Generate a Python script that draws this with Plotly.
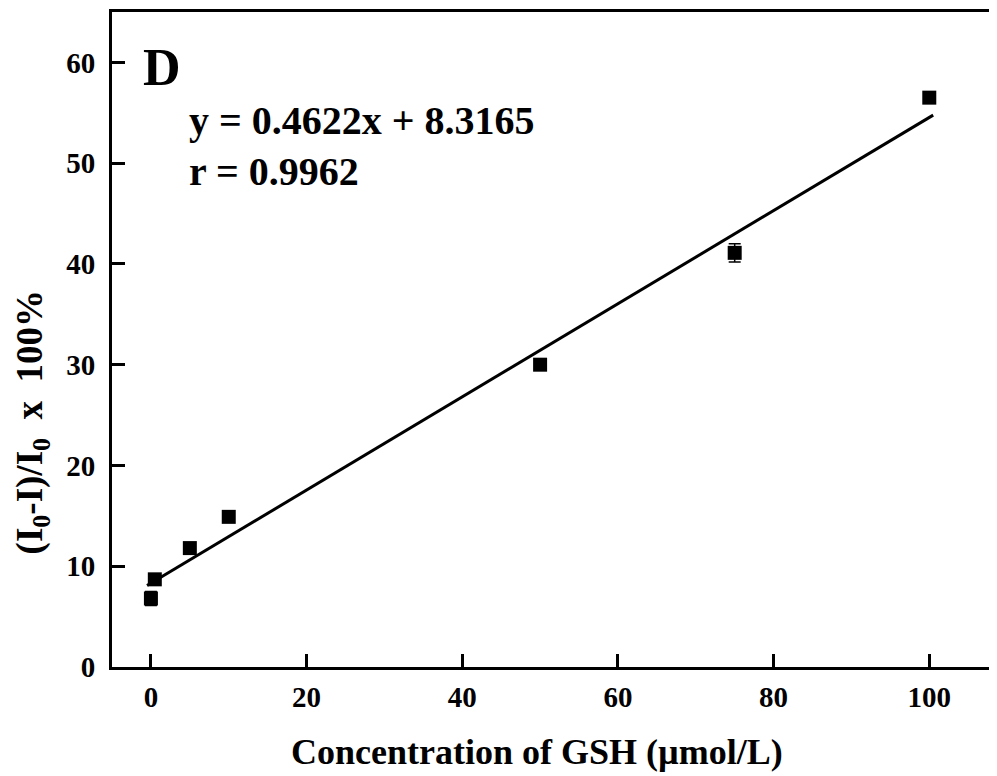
import plotly.graph_objects as go

# GSH calibration data
conc = [0, 0.5, 5, 10, 50, 75, 100]
quench = [6.8, 8.7, 11.8, 14.9, 30.0, 41.1, 56.5]
quench_err = [0.7, 0.4, 0.3, 0.3, 0.3, 0.9, 0.5]

slope = 0.4622
intercept = 8.3165
r_value = 0.9962
fit_x = [-0.5, 100.5]
fit_y = [slope * v + intercept for v in fit_x]

x_ticks = [0, 20, 40, 60, 80, 100]
y_ticks = [0, 10, 20, 30, 40, 50, 60]

SERIF = "Liberation Serif, Times New Roman, serif"

fig = go.Figure()
fig.add_trace(go.Scatter(
    x=fit_x, y=fit_y, mode="lines",
    line=dict(color="black", width=3),
    showlegend=False,
))
fig.add_trace(go.Scatter(
    x=conc, y=quench, mode="markers",
    marker=dict(symbol="square", size=14, color="black"),
    error_y=dict(type="data", array=quench_err, color="black", thickness=1.5, width=6),
    showlegend=False,
))

axis_common = dict(
    showline=True, linecolor="black", linewidth=3,
    ticks="inside", ticklen=13, tickwidth=3, tickcolor="black",
    showgrid=False, zeroline=False,
    tickfont=dict(family=SERIF, size=29, color="black", weight="bold"),
)
fig.update_xaxes(range=[-5, 108.7], tickvals=x_ticks, mirror=True,
                 ticklabelstandoff=2, **axis_common)
fig.update_yaxes(range=[0, 65], tickvals=y_ticks, mirror=False,
                 ticklabelstandoff=8, **axis_common)

text_font = dict(family=SERIF, color="black", weight="bold")
sp = "\u00a0\u00a0"
annotations = [
    dict(text="D", x=0.033, y=0.915, xanchor="left", yanchor="middle",
         font=dict(size=52, **text_font)),
    dict(text=f"y = {slope}x + {intercept}", x=0.085, y=0.834,
         xanchor="left", yanchor="middle", font=dict(size=40, **text_font)),
    dict(text=f"r = {r_value}", x=0.085, y=0.757,
         xanchor="left", yanchor="middle", font=dict(size=40, **text_font)),
    dict(text="Concentration of GSH (\u00b5mol/L)", x=0.48, y=-0.13,
         xanchor="center", yanchor="middle", font=dict(size=36, **text_font)),
    dict(text=f"(I<sub>0</sub>-I)/I<sub>0</sub>{sp}x{sp}100%", x=-0.09, y=0.374,
         xanchor="center", yanchor="middle", textangle=-90,
         font=dict(size=37, **text_font)),
]
for a in annotations:
    a.update(xref="paper", yref="paper", showarrow=False)

# the page adds an 8px body margin, so the figure is 8px smaller and shifted
fig.update_layout(
    width=989, height=768,
    margin=dict(l=104, r=0, t=4, b=109),
    plot_bgcolor="white", paper_bgcolor="white",
    annotations=annotations,
)

fig.write_html("out.html")
